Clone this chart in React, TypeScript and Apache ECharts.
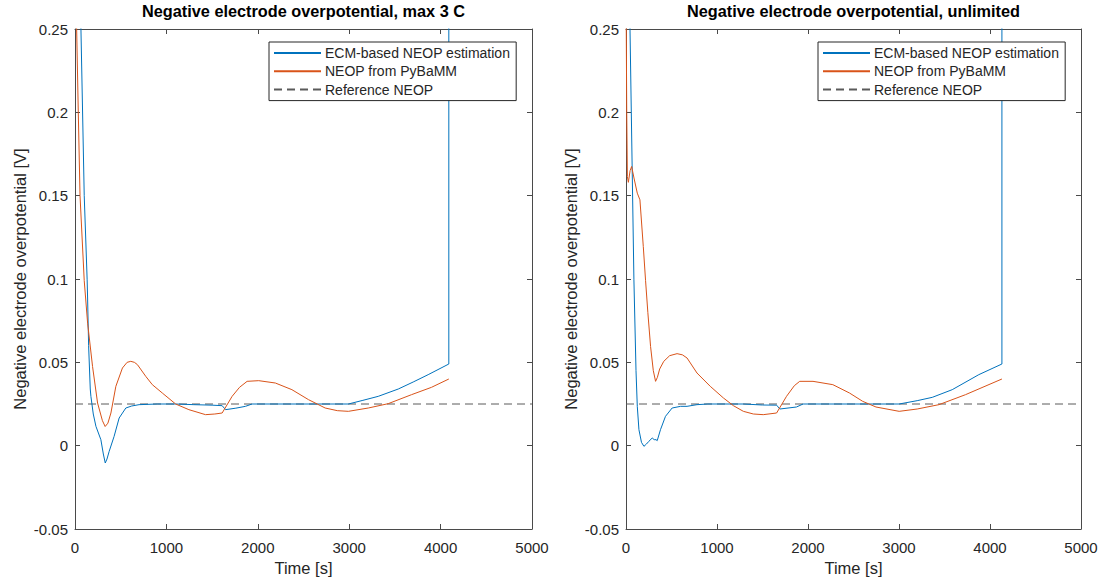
import React, { useEffect, useRef } from "react";
import * as echarts from "echarts";

// ---------- data (time [s], NEOP [V]) ----------
const titles = [
  "Negative electrode overpotential, max 3 C",
  "Negative electrode overpotential, unlimited",
];
const seriesNames = ["ECM-based NEOP estimation", "NEOP from PyBaMM", "Reference NEOP"];
const xTicks = { min: 0, max: 5000, interval: 1000 };
const yTicks = { min: -0.05, max: 0.25, interval: 0.05 };

const ecmMax3C: [number, number][] = [
  [20, 0.38], [65, 0.25], [101, 0.15], [133, 0.0995], [138, 0.088], [149, 0.06], [167, 0.034],
  [174, 0.0296], [200, 0.019], [229, 0.0116], [283, 0.0036], [310, -0.005], [331, -0.0104],
  [350, -0.008], [374, -0.0034], [428, 0.0056], [483, 0.0166], [556, 0.0226], [620, 0.0238],
  [701, 0.0246], [900, 0.025], [1100, 0.025], [1300, 0.0246], [1500, 0.0243], [1610, 0.024],
  [1647, 0.0216], [1760, 0.0225], [1865, 0.0236], [1937, 0.025], [2500, 0.025], [2991, 0.025],
  [3150, 0.0272], [3318, 0.0296], [3537, 0.034], [3700, 0.0382], [3864, 0.0426], [4090, 0.049],
  [4090, 0.4],
];
const pybammMax3C: [number, number][] = [
  [0, 0.3], [18, 0.25], [36, 0.2], [55, 0.15], [101, 0.099], [138, 0.0735], [192, 0.0475],
  [247, 0.0256], [300, 0.015], [330, 0.0115], [360, 0.0135], [393, 0.0196], [447, 0.0356],
  [519, 0.0466], [570, 0.05], [610, 0.0506], [650, 0.05], [683, 0.0486], [774, 0.0416],
  [846, 0.0366], [955, 0.0316], [1101, 0.025], [1246, 0.0216], [1428, 0.0186], [1530, 0.019],
  [1610, 0.0196], [1719, 0.0296], [1800, 0.035], [1883, 0.0386], [2010, 0.039], [2192, 0.0376],
  [2373, 0.0336], [2555, 0.0276], [2737, 0.0226], [2870, 0.021], [2991, 0.0206], [3209, 0.0226],
  [3427, 0.0252], [3682, 0.0306], [3900, 0.035], [4090, 0.04],
];
const ecmUnlimited: [number, number][] = [
  [20, 0.33], [44, 0.25], [87, 0.0995], [110, 0.045], [124, 0.0236], [142, 0.0096], [170, 0.002],
  [197, -0.0004], [225, 0.001], [251, 0.0026], [288, 0.0046], [310, 0.0036], [330, 0.0036],
  [343, 0.003], [379, 0.0096], [434, 0.0176], [507, 0.0226], [600, 0.0236], [671, 0.0236],
  [780, 0.0246], [900, 0.025], [1290, 0.025], [1500, 0.0244], [1655, 0.0243], [1691, 0.022],
  [1873, 0.0232], [1946, 0.025], [2500, 0.025], [3002, 0.025], [3200, 0.027], [3366, 0.029],
  [3585, 0.0336], [3877, 0.0426], [4131, 0.049], [4131, 0.4],
];
const pybammUnlimited: [number, number][] = [
  [0, 0.28], [8, 0.2], [15, 0.1615], [26, 0.158], [45, 0.165], [62, 0.1675], [90, 0.16],
  [124, 0.1515], [153, 0.1475], [190, 0.1195], [215, 0.099], [240, 0.08], [270, 0.0595],
  [300, 0.045], [325, 0.0386], [345, 0.041], [370, 0.046], [415, 0.0506], [480, 0.054],
  [561, 0.0552], [620, 0.0545], [671, 0.0526], [780, 0.0436], [926, 0.0356], [1071, 0.0286],
  [1180, 0.024], [1290, 0.0206], [1400, 0.019], [1508, 0.0186], [1655, 0.0196], [1764, 0.0296],
  [1850, 0.036], [1909, 0.0386], [2055, 0.0386], [2273, 0.0366], [2456, 0.0316], [2601, 0.0266],
  [2747, 0.0232], [3002, 0.0206], [3200, 0.022], [3439, 0.0246], [3731, 0.0306], [4131, 0.04],
];
const referenceNeop: [number, number][] = [
  [0, 0.025], [5000, 0.025],
];

const BLUE = "#0072BD";
const ORANGE = "#D95319";
const GRAY = "#5a5a5a";
const AXIS = "#4a4a4a";
const TEXT = "#262626";
const FONT = "'Liberation Sans', Arial, Helvetica, sans-serif";

const grids = [
  { left: 75, top: 29, width: 457, height: 500 },
  { left: 626, top: 29, width: 455, height: 500 },
];

function fmtY(v: number) {
  return String(+v.toFixed(2));
}
function fmtX(v: number) {
  return String(Math.round(v));
}

export default function App() {
  const ref = useRef<HTMLDivElement>(null);
  useEffect(() => {
    if (!ref.current) return;
    const chart = echarts.init(ref.current, undefined, { renderer: "svg" });

    const xAxes: any[] = [];
    const yAxes: any[] = [];
    grids.forEach((_, gi) => {
      const baseX = {
        type: "value",
        gridIndex: gi,
        min: xTicks.min,
        max: xTicks.max,
        interval: xTicks.interval,
        splitLine: { show: false },
        axisLine: { show: true, onZero: false, lineStyle: { color: AXIS, width: 1 } },
        axisTick: { show: true, inside: true, length: 5, lineStyle: { color: AXIS } },
      };
      const baseY = {
        type: "value",
        gridIndex: gi,
        min: yTicks.min,
        max: yTicks.max,
        interval: yTicks.interval,
        splitLine: { show: false },
        axisLine: { show: true, onZero: false, lineStyle: { color: AXIS, width: 1 } },
        axisTick: { show: true, inside: true, length: 5, lineStyle: { color: AXIS } },
      };
      xAxes.push({
        ...baseX,
        position: "bottom",
        name: "Time [s]",
        nameLocation: "middle",
        nameGap: 30,
        nameTextStyle: { color: TEXT, fontFamily: FONT, fontSize: 16.5 },
        axisLabel: { color: TEXT, fontFamily: FONT, fontSize: 15, margin: 11, formatter: fmtX },
      });
      xAxes.push({ ...baseX, position: "top", axisLabel: { show: false } });
      yAxes.push({
        ...baseY,
        position: "left",
        name: "Negative electrode overpotential [V]",
        nameLocation: "middle",
        nameGap: 47,
        nameTextStyle: { color: TEXT, fontFamily: FONT, fontSize: 16.5 },
        axisLabel: {
          color: TEXT,
          fontFamily: FONT,
          fontSize: 15,
          margin: 7,
          formatter: fmtY,
        },
      });
      yAxes.push({ ...baseY, position: "right", axisLabel: { show: false } });
    });

    const mk = (name: string, data: [number, number][], gi: number, color: string, dashed = false) => ({
      type: "line",
      name,
      data,
      xAxisIndex: gi * 2,
      yAxisIndex: gi * 2,
      showSymbol: false,
      symbol: "none",
      clip: true,
      lineStyle: { color, width: 1, type: dashed ? [8, 5] : "solid" },
      itemStyle: { color },
      z: dashed ? 1 : 2,
    });

    const series = [
      mk(seriesNames[0], ecmMax3C, 0, BLUE),
      mk(seriesNames[1], pybammMax3C, 0, ORANGE),
      mk(seriesNames[2], referenceNeop, 0, GRAY, true),
      mk(seriesNames[0], ecmUnlimited, 1, BLUE),
      mk(seriesNames[1], pybammUnlimited, 1, ORANGE),
      mk(seriesNames[2], referenceNeop, 1, GRAY, true),
    ];

    const legendBase = {
      orient: "vertical",
      data: seriesNames,
      itemWidth: 47,
      itemHeight: 14,
      itemGap: 4.3,
      padding: [4, 6, 4, 4],
      borderColor: TEXT,
      borderWidth: 1,
      backgroundColor: "#ffffff",
      selectedMode: false,
      itemStyle: { opacity: 0 },
      textStyle: { color: TEXT, fontFamily: FONT, fontSize: 14, padding: [0, 0, 0, -1] },
    };

    chart.setOption({
      animation: false,
      backgroundColor: "#ffffff",
      grid: grids,
      xAxis: xAxes,
      yAxis: yAxes,
      legend: [
        { ...legendBase, left: 269, top: 42 },
        { ...legendBase, left: 818, top: 42 },
      ],
      graphic: grids.map((g, gi) => ({
        type: "text",
        x: g.left + g.width / 2,
        y: 11,
        style: {
          text: titles[gi],
          fill: "#000000",
          font: `bold 16.3px ${FONT}`,
          textAlign: "center",
          textVerticalAlign: "middle",
        },
      })),
      series,
    });

    return () => chart.dispose();
  }, []);

  return (
    <div
      ref={ref}
      style={{ position: "fixed", left: 0, top: 0, width: 1102, height: 583, background: "#fff" }}
    />
  );
}
